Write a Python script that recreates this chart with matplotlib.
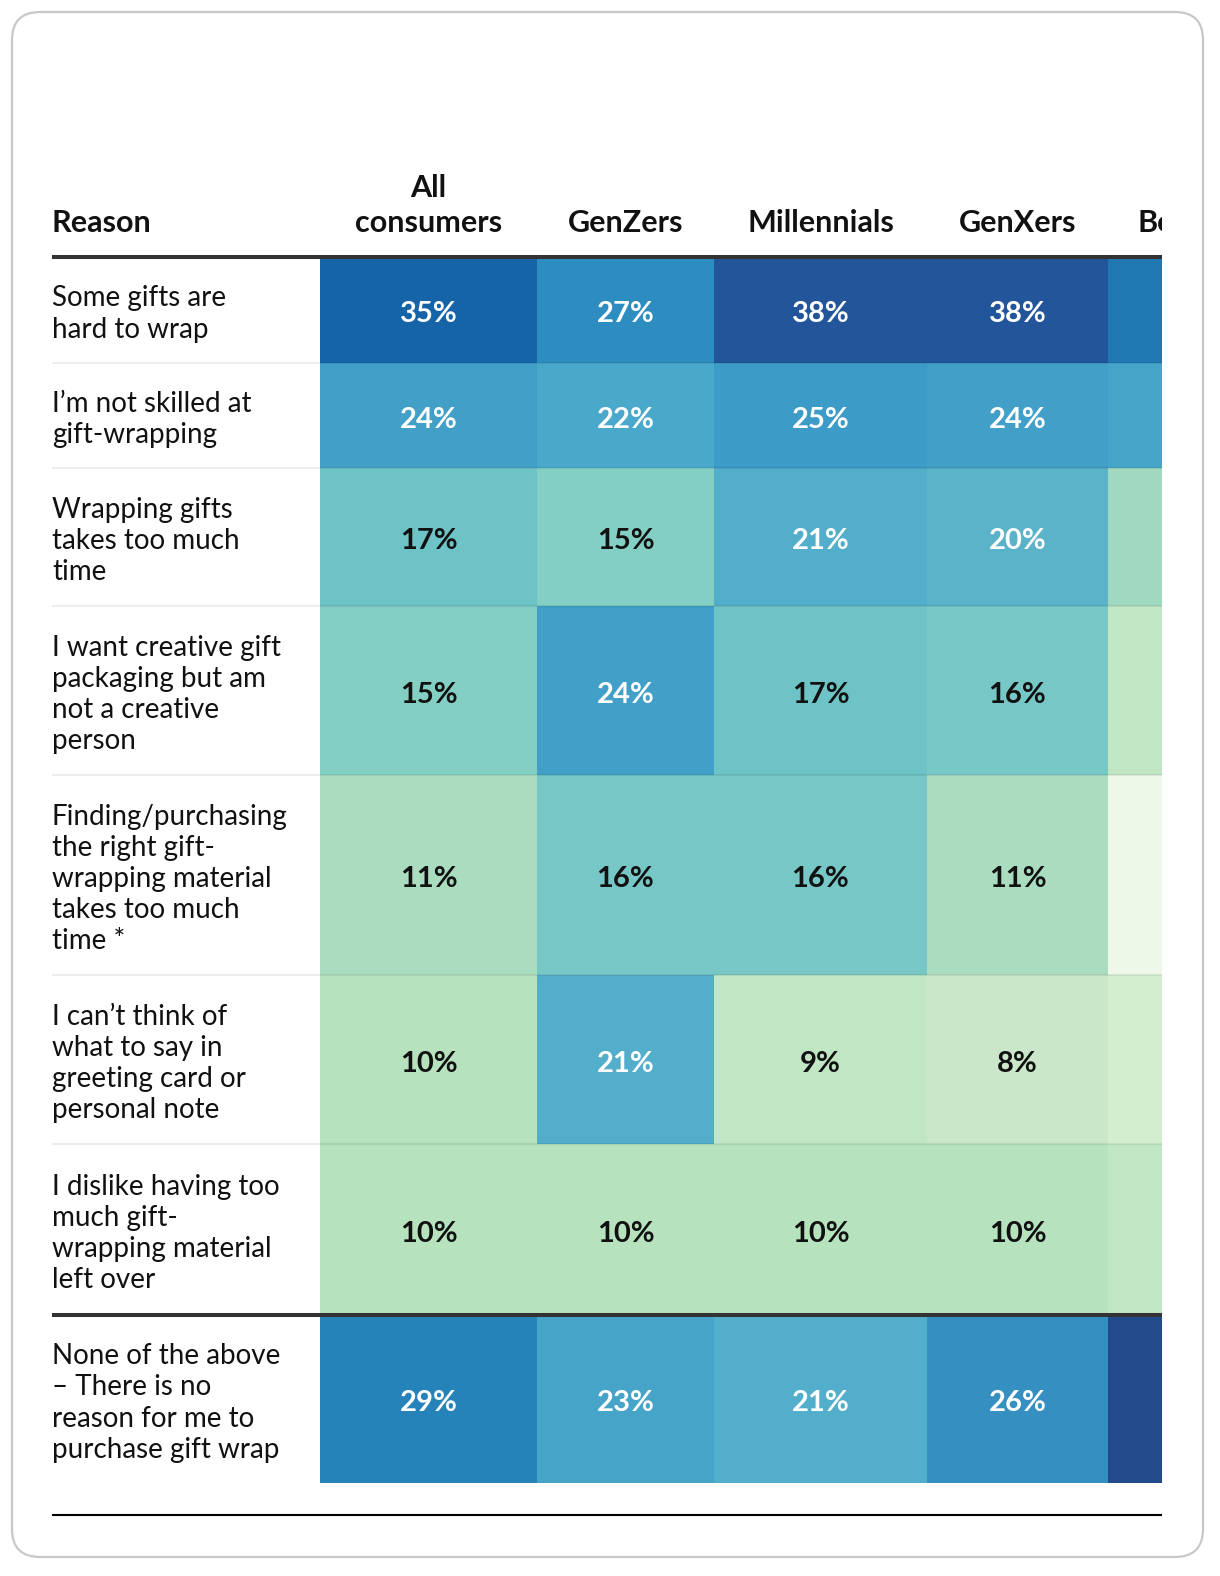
import matplotlib
matplotlib.use("Agg")
import matplotlib.pyplot as plt
import numpy as np
from matplotlib.colors import LinearSegmentedColormap, Normalize
from matplotlib.patches import FancyBboxPatch, Rectangle
from matplotlib.transforms import Bbox

# ---------------- data ----------------
reasons = [
    "Some gifts are\nhard to wrap",
    "I\u2019m not skilled at\ngift-wrapping",
    "Wrapping gifts\ntakes too much\ntime",
    "I want creative gift\npackaging but am\nnot a creative\nperson",
    "Finding/purchasing\nthe right gift-\nwrapping material\ntakes too much\ntime *",
    "I can\u2019t think of\nwhat to say in\ngreeting card or\npersonal note",
    "I dislike having too\nmuch gift-\nwrapping material\nleft over",
    "None of the above\n\u2013 There is no\nreason for me to\npurchase gift wrap",
]
groups = ["All\nconsumers", "GenZers", "Millennials", "GenXers", "Boomers"]
all_consumers = [35, 24, 17, 15, 11, 10, 10, 29]
genzers       = [27, 22, 15, 24, 16, 21, 10, 23]
millennials   = [38, 25, 21, 17, 16, 9, 10, 21]
genxers       = [38, 24, 20, 16, 11, 8, 10, 26]
boomers       = [31, 23, 12, 9, 4, 7, 9, 40]   # column is cut off; estimated from colour

values = np.array([all_consumers, genzers, millennials, genxers, boomers]).T

# ---------------- style / layout ----------------
W, H = 1220, 1576
DPI = 100
fig = plt.figure(figsize=(W / DPI, H / DPI), dpi=DPI)
ax = fig.add_axes([0, 0, 1, 1])
ax.set_xlim(0, W)
ax.set_ylim(H, 0)
ax.axis("off")

FONT = ["Lato", "DejaVu Sans"]

anchor_vals = [4, 7, 8, 10, 11, 15, 16, 17, 20, 21, 22, 24, 25, 26, 27, 29, 35, 38, 40]
anchor_cols = ["#eef8e8", "#d3edcf", "#cae8c9", "#b5e3bd", "#a9dcbf", "#83cfc3",
               "#76c7c6", "#6dc3c5", "#5ab3c8", "#52aecb", "#4aa9cb", "#42a0c8",
               "#3d9bc7", "#3590c1", "#2e8dc0", "#2683b9", "#1664a8", "#22559a",
               "#234b8c"]
vmin, vmax = anchor_vals[0], anchor_vals[-1]
nodes = [(v - vmin) / (vmax - vmin) for v in anchor_vals]
cmap = LinearSegmentedColormap.from_list("tbl", list(zip(nodes, anchor_cols)))
norm = Normalize(vmin=vmin, vmax=vmax)

x_left, x_right = 52, 1162
col_edges = [320, 537, 714, 927, 1108, 1290]
row_edges = [257, 363, 468, 606, 775, 975, 1144, 1315, 1483]
text_dy = 4

# card
card = FancyBboxPatch((12, 12), 1191, 1545, boxstyle="round,pad=0,rounding_size=28",
                      transform=ax.transData, facecolor="white",
                      edgecolor="#c8c8c8", lw=1.6, zorder=0)
ax.add_patch(card)

clip = Rectangle((x_left, 0), x_right - x_left, H, transform=ax.transData)
# clip box in display pixels (for texts)
clip_box = Bbox([[x_left, 0], [x_right, H]])

mesh = ax.pcolormesh(col_edges, row_edges, values, cmap=cmap, norm=norm,
                     shading="flat", zorder=1)
mesh.set_clip_path(clip)

# row separators
for y in row_edges[1:-2]:
    ax.plot([x_left, x_right], [y, y], color="black", alpha=0.07, lw=1.5,
            solid_capstyle="butt", zorder=2)
# thick rules
for y in [row_edges[0], row_edges[-2]]:
    ax.plot([x_left, x_right], [y, y], color="#333333", lw=2.9,
            solid_capstyle="butt", zorder=3)
ax.plot([x_left, x_right], [1515, 1515], color="black", lw=1.5,
        solid_capstyle="butt", zorder=3)


def clipped(t):
    t.set_clip_on(True)
    t.set_clip_path(None)
    t.set_clip_box(clip_box)
    return t


# headers
ax.text(x_left, 232, "Reason", fontsize=22, fontweight="bold", family=FONT,
        ha="left", va="baseline", color="#111111")
for j, g in enumerate(groups):
    cx = (col_edges[j] + col_edges[j + 1]) / 2
    clipped(ax.text(cx, 232, g, fontsize=22, fontweight="bold", family=FONT,
                    ha="center", va="baseline", color="#111111", linespacing=1.3,
                    multialignment="center"))

# labels & values (the Boomers column lies beyond the visible edge)
n_visible = 4
for i, lab in enumerate(reasons):
    cy = (row_edges[i] + row_edges[i + 1]) / 2 + text_dy
    ax.text(x_left, cy, lab, fontsize=20, fontweight="normal", family=FONT,
            ha="left", va="center", color="#111111", linespacing=1.24)
    for j in range(n_visible):
        v = values[i, j]
        cx = (col_edges[j] + col_edges[j + 1]) / 2
        clipped(ax.text(cx, cy, f"{v}%", fontsize=21, fontweight="bold", family=FONT,
                        ha="center", va="center",
                        color="white" if v >= 20 else "#111111"))

fig.savefig("out.png", dpi=DPI)
